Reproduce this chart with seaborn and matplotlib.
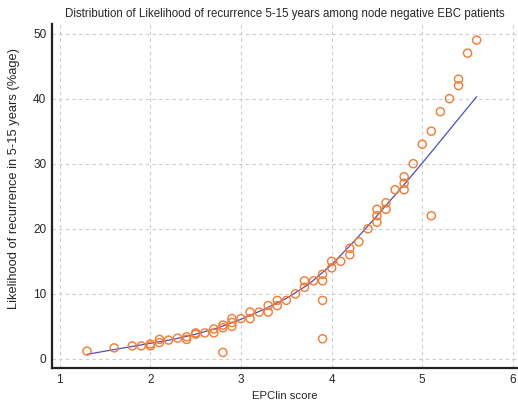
import matplotlib
matplotlib.use("Agg")
import matplotlib.pyplot as plt
import seaborn as sns
import pandas as pd
from matplotlib.ticker import MultipleLocator

# EPClin score vs likelihood of recurrence
epclin = [1.3, 1.6, 1.8, 1.9, 2.0, 2.0, 2.1, 2.1, 2.2, 2.3, 2.4, 2.4, 2.5, 2.5,
          2.6, 2.7, 2.7, 2.8, 2.8, 2.8, 2.9, 2.9, 2.9, 3.0, 3.1, 3.1, 3.2, 3.3,
          3.3, 3.4, 3.4, 3.5, 3.6, 3.7, 3.7, 3.8, 3.9, 3.9, 3.9, 3.9, 4.0, 4.0,
          4.1, 4.2, 4.2, 4.3, 4.4, 4.5, 4.5, 4.5, 4.6, 4.6, 4.7, 4.8, 4.8, 4.8,
          4.9, 5.0, 5.1, 5.1, 5.2, 5.3, 5.4, 5.4, 5.5, 5.6]
recurrence = [1.2, 1.7, 2.0, 2.0, 2.3, 2.0, 3.0, 2.5, 2.9, 3.2, 3.4, 3.0, 4.0, 3.8,
              4.0, 4.6, 4.0, 5.2, 4.8, 1.0, 6.2, 5.6, 5.0, 6.2, 7.2, 6.2, 7.2, 8.2,
              7.2, 9.0, 8.2, 9.0, 10.0, 12.0, 11.0, 12.0, 13.0, 12.0, 9.0, 3.1, 15.0, 14.0,
              15.0, 17.0, 16.0, 18.0, 20.0, 23.0, 22.0, 21.0, 24.0, 23.0, 26.0, 28.0, 27.0, 26.0,
              30.0, 33.0, 35.0, 22.0, 38.0, 40.0, 43.0, 42.0, 47.0, 49.0]

# fitted curve as drawn in the picture
fit_x = [1.3, 1.5, 1.75, 2.0, 2.25, 2.5, 2.75, 3.0, 3.25, 3.5, 3.75, 4.0,
         4.25, 4.5, 4.75, 5.0, 5.3, 5.6]
fit_y = [0.7, 1.2, 1.8, 2.4, 3.0, 3.8, 4.8, 6.1, 7.6, 9.3, 11.5, 14.5,
         18.1, 22.0, 26.0, 30.1, 35.2, 40.3]

df = pd.DataFrame({"x": epclin, "y": recurrence})
fit = pd.DataFrame({"x": fit_x, "y": fit_y})

sns.set_style("white")
plt.rcParams["font.family"] = ["Liberation Sans", "DejaVu Sans"]

fig = plt.figure(figsize=(5.18, 4.04), dpi=100)
ax = fig.add_axes([0.100, 0.089, 0.898, 0.852])

sns.lineplot(data=fit, x="x", y="y", color="#4d4dbf", linewidth=0.9, ax=ax, zorder=2)
sns.scatterplot(data=df, x="x", y="y", marker="o", s=34, facecolor="none",
                edgecolor="#f47a30", linewidth=1.0, ax=ax, zorder=3)

ax.set_xlim(0.912, 6.045)
ax.set_ylim(-1.4, 51.5)
ax.xaxis.set_major_locator(MultipleLocator(1))
ax.xaxis.set_minor_locator(MultipleLocator(0.5))
ax.yaxis.set_major_locator(MultipleLocator(10))
ax.yaxis.set_minor_locator(MultipleLocator(5))

ax.grid(True, which="major", color="#cccccc", linestyle=(0, (3, 3)), linewidth=0.8)
ax.tick_params(which="major", direction="in", length=7, width=1.5, color="#222222",
               labelsize=8.5, pad=4)
ax.tick_params(which="minor", direction="in", length=4, width=1, color="#222222")

for s in ["top", "right"]:
    ax.spines[s].set_visible(False)
for s in ["left", "bottom"]:
    ax.spines[s].set_linewidth(1.6)
    ax.spines[s].set_color("#222222")

ax.set_xlabel("EPClin score", fontsize=8.2, labelpad=4)
ax.set_ylabel("Likelihood of recurrence in 5-15 years (%age)", fontsize=9.3)
ax.yaxis.set_label_coords(-0.069, 0.55)
ax.set_title("Distribution of Likelihood of recurrence 5-15 years among node negative EBC patients",
             fontsize=8.3, pad=5)

fig.savefig("out.png", dpi=100)
